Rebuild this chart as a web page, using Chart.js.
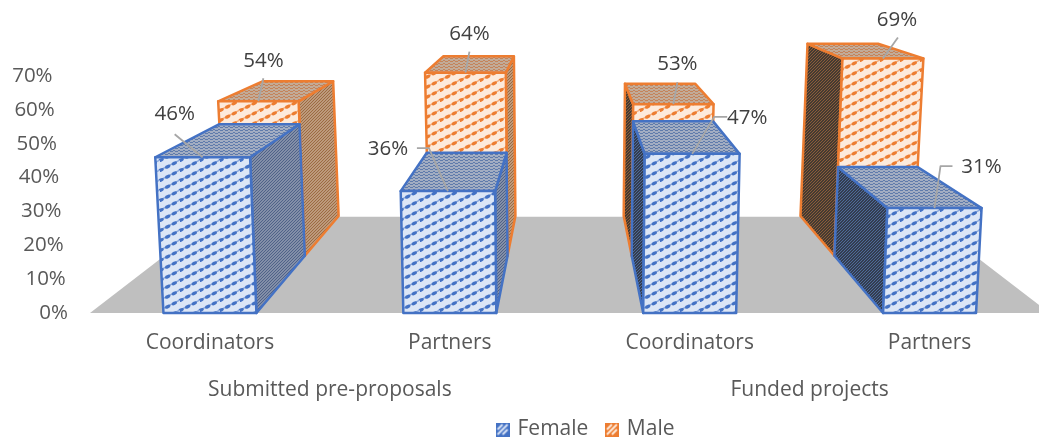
<!DOCTYPE html>
<html>
<head>
<meta charset="utf-8">
<style>
  html, body { margin: 0; padding: 0; background: #fff; overflow: hidden; width: 1039px; height: 441px; }
  canvas { display: block; }
</style>
<script src="https://cdn.jsdelivr.net/npm/chart.js@4"></script>
</head>
<body>
<canvas id="chart" width="1060" height="441"></canvas>
<script>
// Data
const categories = ['Coordinators', 'Partners', 'Coordinators', 'Partners'];
const groups = ['Submitted pre-proposals', 'Funded projects'];
const female = [46, 36, 47, 31];
const male = [54, 64, 53, 69];
const yTicksMax = 70;

// Where each label and its leader line sit, relative to the top of the bar's front face
const femaleLeaders = [
    { text: [-28, -43], line: [[-28, -23]] },
    { text: [-60, -42], line: [[-31, -43], [-19, -43]] },
    { text: [55, -36], line: [[35, -37], [22, -37]] },
    { text: [47, -41], line: [[18, -42], [6, -42]] },
];
const maleLeaders = [
    { text: [5, -40], line: [[5, -23]] },
    { text: [4, -39], line: [[4, -21]] },
    { text: [4, -40], line: [[4, -22]] },
    { text: [14, -38], line: [[15, -21]] },
];

const FONT = '"Open Sans", sans-serif';

// Perspective of the 3D view
const VP_X = 569, VP_Y = -56, LEAN = 1.3e-4;
const FLOOR_BACK = 0.739;
const DEPTH = { female: [1, 0.845], male: [0.845, 0.737] };

function tileCanvas(w, h, bg, draw) {
    const c = document.createElement('canvas');
    c.width = w;
    c.height = h;
    const g = c.getContext('2d');
    g.fillStyle = bg;
    g.fillRect(0, 0, w, h);
    draw(g);
    return c;
}

function tile(w, h, bg, draw) {
    return document.createElement('canvas').getContext('2d').createPattern(tileCanvas(w, h, bg, draw), 'repeat');
}

// wide upward diagonal used on the front faces
function frontPattern(bg, fg) {
    return tile(20, 10, bg, g => {
        g.strokeStyle = fg;
        g.globalAlpha = 0.55;
        g.lineWidth = 1.4;
        g.beginPath();
        g.moveTo(0, 10);
        g.lineTo(20, 0);
        g.stroke();
        g.globalAlpha = 1;
        g.fillStyle = fg;
        for (let i = 0; i < 3; i++) {
            const x = i * 20 / 3, y = 10 - i * 10 / 3;
            [[0, 0], [0, -10], [20, 0], [-20, 0], [0, 10]].forEach(([dx, dy]) => {
                g.beginPath();
                g.ellipse(x + dx + 1, y + dy, 2.9, 1.7, -0.45, 0, Math.PI * 2);
                g.fill();
            });
        }
    });
}

function sidePattern(bg, fg) {
    return tile(3, 3, bg, g => {
        g.fillStyle = fg;
        g.fillRect(0, 2, 1, 1);
        g.fillRect(1, 1, 1, 1);
        g.fillRect(2, 0, 1, 1);
    });
}

function topPattern(bg, fg) {
    return tile(5, 3, bg, g => {
        g.fillStyle = fg;
        g.fillRect(0, 1, 3, 1);
        g.fillRect(3, 0, 2, 1);
    });
}

// small legend key: solid border with pale diagonal band
function legendKey(fg, pale) {
    return tileCanvas(14, 14, fg, g => {
        g.strokeStyle = pale;
        g.lineWidth = 2;
        [[2, 12, 12, 2], [2, 7, 7, 2], [7, 12, 12, 7]].forEach(([a, b, c, d]) => {
            g.beginPath();
            g.moveTo(a, b);
            g.lineTo(c, d);
            g.stroke();
        });
    });
}

const styles = {
    female: {
        border: '#4472c4',
        front: frontPattern('#dce6f6', '#4472c4'),
        top: topPattern('#a2adc2', '#5f7bab'),
        right: sidePattern('#838fa8', '#4f6288'),
        left: sidePattern('#333d50', '#4f6a98'),
        key: legendKey('#4472c4', '#dce6f6'),
    },
    male: {
        border: '#ed7d31',
        front: frontPattern('#fdeadb', '#ed7d31'),
        top: topPattern('#c2ab98', '#c4835a'),
        right: sidePattern('#bd9a7c', '#9c6b42'),
        left: sidePattern('#453a31', '#8a5c3a'),
        key: legendKey('#ed7d31', '#fdeadb'),
    },
};

function polygon(ctx, pts, fill, stroke) {
    ctx.beginPath();
    pts.forEach((p, i) => (i ? ctx.lineTo(p[0], p[1]) : ctx.moveTo(p[0], p[1])));
    ctx.closePath();
    ctx.fillStyle = fill;
    ctx.fill();
    if (stroke) {
        ctx.strokeStyle = stroke;
        ctx.lineWidth = 2.5;
        ctx.lineJoin = 'round';
        ctx.stroke();
    }
}

// Front-plane pixel (from the chart's scales) to screen position at a given depth
function project(chart, x, y, s) {
    const base = chart.scales.y.getPixelForValue(0);
    const lean = VP_X + (x - VP_X) * (1 + LEAN * (base - y));
    return [VP_X + (lean - VP_X) * s, VP_Y + (y - VP_Y) * s];
}

function drawBar(chart, bar, st, depth) {
    const ctx = chart.ctx;
    const [s0, s1] = depth;
    const l = bar.x - bar.width / 2, r = bar.x + bar.width / 2;
    const base = bar.base, top = bar.y;
    const p = (x, y, s) => project(chart, x, y, s);

    // side wall facing the viewer: right side left of centre, left side right of centre
    if (bar.x < VP_X) {
        polygon(ctx, [p(r, base, s0), p(r, top, s0), p(r, top, s1), p(r, base, s1)], st.right, st.border);
    } else {
        polygon(ctx, [p(l, base, s0), p(l, top, s0), p(l, top, s1), p(l, base, s1)], st.left, st.border);
    }
    polygon(ctx, [p(l, top, s0), p(r, top, s0), p(r, top, s1), p(l, top, s1)], st.top, st.border);
    polygon(ctx, [p(l, base, s0), p(r, base, s0), p(r, top, s0), p(l, top, s0)], st.front, st.border);
}

function drawLabels(chart, bars, depth, values, leaders) {
    const ctx = chart.ctx;
    bars.forEach((bar, i) => {
        const a = project(chart, bar.x, bar.y, depth[0]);
        const lead = leaders[i];
        ctx.beginPath();
        ctx.moveTo(a[0] + lead.line[0][0], a[1] + lead.line[0][1]);
        lead.line.slice(1).forEach(o => ctx.lineTo(a[0] + o[0], a[1] + o[1]));
        ctx.lineTo(a[0], a[1]);
        ctx.strokeStyle = '#a6a6a6';
        ctx.lineWidth = 1.8;
        ctx.stroke();
        ctx.fillStyle = '#404040';
        ctx.font = '20.5px ' + FONT;
        ctx.textAlign = 'center';
        ctx.textBaseline = 'middle';
        ctx.fillText(values[i] + '%', a[0] + lead.text[0], a[1] + lead.text[1]);
    });
}

const bars3d = {
    id: 'bars3d',
    afterLayout(chart) {
        // the legend sits right of the canvas centre in the reference
        const lg = chart.legend;
        lg.left += 16.5;
        lg.right += 16.5;
        lg.top -= 9;
        lg.bottom -= 9;
    },
    beforeDatasetsDraw(chart) {
        const ctx = chart.ctx;
        const { x: xs, y: ys } = chart.scales;
        const base = ys.getPixelForValue(0);
        ctx.save();

        // floor
        polygon(ctx, [
            project(chart, xs.left, base, 1),
            project(chart, xs.right, base, 1),
            project(chart, xs.right, base, FLOOR_BACK),
            project(chart, xs.left, base, FLOOR_BACK),
        ], '#bfbfbf');

        // value axis labels follow the lean of the view
        ctx.fillStyle = '#595959';
        ctx.font = '20.5px ' + FONT;
        ctx.textAlign = 'right';
        ctx.textBaseline = 'middle';
        ys.ticks.forEach(t => {
            const y = ys.getPixelForValue(t.value);
            const pos = project(chart, xs.left - 22, y, 1);
            ctx.fillText(t.value + '%', pos[0], pos[1]);
        });

        const femaleBars = chart.getDatasetMeta(0).data;
        const maleBars = chart.getDatasetMeta(1).data;
        maleBars.forEach(b => drawBar(chart, b, styles.male, DEPTH.male));
        femaleBars.forEach(b => drawBar(chart, b, styles.female, DEPTH.female));
        drawLabels(chart, maleBars, DEPTH.male, male, maleLeaders);
        drawLabels(chart, femaleBars, DEPTH.female, female, femaleLeaders);

        ctx.restore();
        return false; // the flat bars are replaced by the 3D ones above
    },
};

const axisFont = { family: FONT, size: 21 };

new Chart(document.getElementById('chart'), {
    type: 'bar',
    data: {
        labels: categories,
        datasets: [
            { label: 'Female', data: female, backgroundColor: styles.female.front, borderColor: styles.female.border, borderWidth: 2 },
            { label: 'Male', data: male, backgroundColor: styles.male.front, borderColor: styles.male.border, borderWidth: 2 },
        ],
    },
    options: {
        responsive: false,
        animation: false,
        grouped: false,
        barPercentage: 0.3875,
        categoryPercentage: 1,
        layout: { padding: { left: 90, right: 10.5, top: 76, bottom: -18 } },
        scales: {
            x: {
                weight: 0,
                offset: true,
                grid: { display: false, drawTicks: false },
                border: { display: false },
                ticks: { color: '#595959', font: axisFont, padding: 17, maxRotation: 0, autoSkip: false },
                afterFit: s => { s.height = 48; },
            },
            x2: {
                type: 'category',
                axis: 'x',
                position: 'bottom',
                weight: 1,
                offset: true,
                labels: groups,
                grid: { display: false, drawTicks: false },
                border: { display: false },
                ticks: { color: '#595959', font: axisFont, padding: 16, maxRotation: 0, autoSkip: false },
                afterFit: s => { s.height = 48; },
            },
            y: {
                min: 0,
                max: yTicksMax,
                ticks: { stepSize: 10, display: false },
                grid: { display: false, drawTicks: false },
                border: { display: false },
            },
        },
        plugins: {
            tooltip: { enabled: false },
            legend: {
                position: 'bottom',
                labels: {
                    color: '#595959',
                    font: axisFont,
                    boxWidth: 9,
                    boxHeight: 14,
                    padding: 19,
                    usePointStyle: true,
                    pointStyleWidth: 9,
                    generateLabels(chart) {
                        const items = Chart.defaults.plugins.legend.labels.generateLabels(chart);
                        items[0].pointStyle = styles.female.key;
                        items[1].pointStyle = styles.male.key;
                        return items;
                    },
                },
            },
        },
    },
    plugins: [bars3d],
});
</script>
</body>
</html>
